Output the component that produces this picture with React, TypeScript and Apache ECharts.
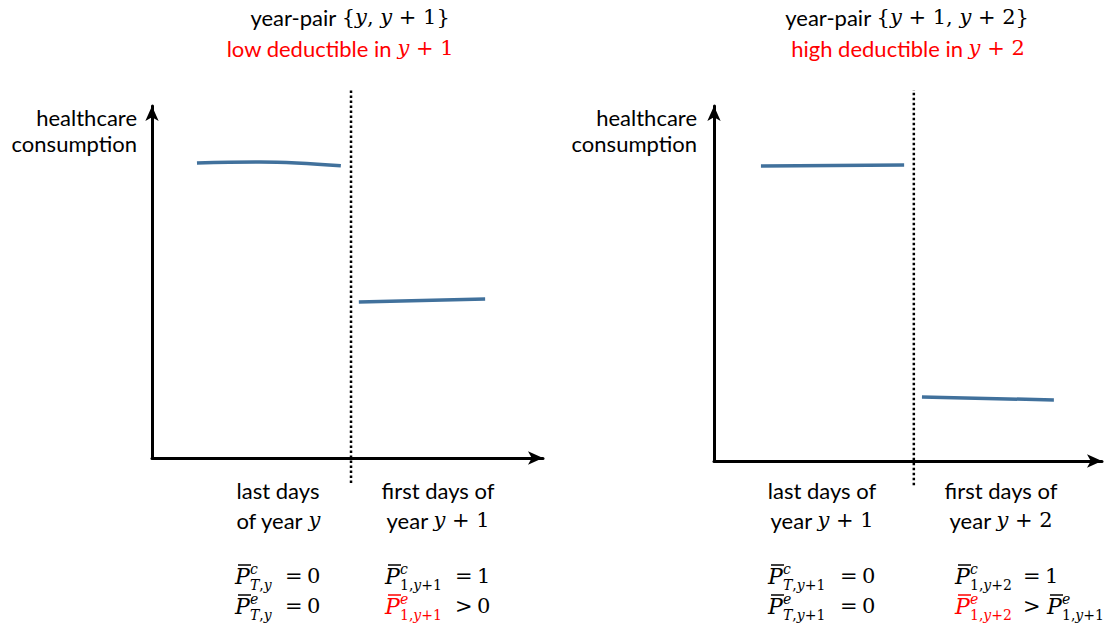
import React, { useEffect, useRef } from 'react';
import * as echarts from 'echarts';

// ---------------- data (conceptual units, 0..100 on each axis) ----------------
// left panel: year-pair {y, y+1}
const leftBefore = [[11.5, 83.8], [27.6, 84.1], [48.3, 83.0]];
const leftAfter = [[52.9, 44.3], [85.2, 45.2]];
const leftCutoff = [[50.9, -7.1], [50.9, 105.1]];
// right panel: year-pair {y+1, y+2}
const rightBefore = [[12.1, 83.1], [49.0, 83.4]];
const rightAfter = [[53.6, 18.0], [87.6, 17.2]];
const rightCutoff = [[51.5, -6.8], [51.5, 104.5]];

// ---------------- texts ----------------
const axisNameLines = ['healthcare', 'consumption'];
const leftTitle = '{s|year-pair }{m|{}{i|y}{m|, }{i|y}{m| + 1}}';
const leftSubtitle = '{s|low deductible in }{i|y}{m| + 1}';
const rightTitle = '{s|year-pair }{m|{}{i|y}{m| + 1, }{i|y}{m| + 2}}';
const rightSubtitle = '{s|high deductible in }{i|y}{m| + 2}';
const leftPeriods = [['last days', '{s|of year }{i|y}'], ['first days of', '{s|year }{i|y}{m| + 1}']];
const rightPeriods = [['last days of', '{s|year }{i|y}{m| + 1}'], ['first days of', '{s|year }{i|y}{m| + 2}']];

const BLUE = '#41719c';
const RED = '#ff0000';
const BLACK = '#000000';
const SANS = 'Lato, "Noto Sans", sans-serif';
const SERIF = '"DejaVu Serif", serif';
const ROW1 = 576;
const ROW2 = 606;

const rich = {
  s: { fontFamily: SANS, fontSize: 22 },
  i: { fontFamily: SERIF, fontSize: 21, fontStyle: 'italic' },
  m: { fontFamily: SERIF, fontSize: 21 },
};
const subRich = {
  i: { fontFamily: SERIF, fontSize: 14, fontStyle: 'italic', lineHeight: 12 },
};

function txt(x: number, y: number, text: string, align: string, fill = BLACK, extra: any = {}) {
  return {
    type: 'text',
    x,
    y,
    silent: true,
    style: {
      text,
      fill,
      font: `22px ${SANS}`,
      align,
      textAlign: align,
      verticalAlign: 'middle',
      textVerticalAlign: 'middle',
      rich,
      ...extra,
    },
  };
}

// P-bar with superscript and subscript
function pbar(x: number, yc: number, sup: string, sub: string, fill: string) {
  return [
    {
      type: 'text', x, y: yc, silent: true,
      style: { text: 'P', fill, font: `italic 22px ${SERIF}`, lineHeight: 18, align: 'left', textAlign: 'left', verticalAlign: 'middle', textVerticalAlign: 'middle' },
    },
    {
      type: 'line', silent: true,
      shape: { x1: x + 3, y1: yc - 11, x2: x + 16, y2: yc - 11 },
      style: { stroke: fill, lineWidth: 1.5 },
    },
    {
      type: 'text', x: x + 15, y: yc - 7, silent: true,
      style: { text: sup, fill, font: `italic 14px ${SERIF}`, lineHeight: 12, align: 'left', textAlign: 'left', verticalAlign: 'middle', textVerticalAlign: 'middle' },
    },
    {
      type: 'text', x: x + 15, y: yc + 8.5, silent: true,
      style: { text: sub, fill, font: `14px ${SERIF}`, lineHeight: 12, align: 'left', textAlign: 'left', verticalAlign: 'middle', textVerticalAlign: 'middle', rich: subRich },
    },
  ];
}

function mathTxt(x: number, y: number, text: string, fill = BLACK) {
  return {
    type: 'text', x, y, silent: true,
    style: { text, fill, font: `21px ${SERIF}`, align: 'left', textAlign: 'left', verticalAlign: 'middle', textVerticalAlign: 'middle' },
  };
}

// relation sign + value, spaced as in the reference
function rel(x: number, y: number, sign: string, value: string) {
  const out = [mathTxt(x, y, sign)];
  if (value) out.push(mathTxt(x + 22, y, value));
  return out;
}

function axisPair(gridIndex: number) {
  return {
    gridIndex,
    type: 'value',
    min: 0,
    max: 100,
    axisLabel: { show: false },
    axisTick: { show: false },
    splitLine: { show: false },
    axisLine: {
      show: true,
      onZero: false,
      symbol: ['none', 'arrow'],
      symbolSize: [10, 15],
      lineStyle: { color: BLACK, width: 3 },
    },
  };
}

function seg(data: number[][], idx: number, smooth: boolean | number = false) {
  return {
    type: 'line',
    xAxisIndex: idx,
    yAxisIndex: idx,
    data,
    smooth,
    symbol: 'none',
    clip: false,
    lineStyle: { color: BLUE, width: 3.5 },
  };
}

function cutoff(data: number[][], idx: number) {
  return {
    type: 'line',
    xAxisIndex: idx,
    yAxisIndex: idx,
    data,
    symbol: 'none',
    clip: false,
    lineStyle: { color: BLACK, width: 2.5, type: 'dotted' },
  };
}

export default function App() {
  const ref = useRef<HTMLDivElement>(null);
  useEffect(() => {
    if (!ref.current) return;
    const chart = echarts.init(ref.current, undefined, { renderer: 'svg' });

    const graphic: any[] = [
      // titles
      txt(350, 17, leftTitle, 'center', BLACK, { font: `21px ${SERIF}` }),
      txt(340, 48, leftSubtitle, 'center', RED, { font: `21px ${SERIF}` }),
      txt(907, 17, rightTitle, 'center', BLACK, { font: `21px ${SERIF}` }),
      txt(908, 48, rightSubtitle, 'center', RED, { font: `21px ${SERIF}` }),
      // y axis names
      txt(137, 117, axisNameLines[0], 'right'),
      txt(137, 143, axisNameLines[1], 'right'),
      txt(697, 117, axisNameLines[0], 'right'),
      txt(697, 143, axisNameLines[1], 'right'),
      // period labels
      txt(278, 490, leftPeriods[0][0], 'center'),
      txt(278, 520, leftPeriods[0][1], 'center'),
      txt(438, 490, leftPeriods[1][0], 'center'),
      txt(438, 520, leftPeriods[1][1], 'center'),
      txt(822, 490, rightPeriods[0][0], 'center'),
      txt(822, 520, rightPeriods[0][1], 'center'),
      txt(1001, 490, rightPeriods[1][0], 'center'),
      txt(1001, 520, rightPeriods[1][1], 'center'),
      // formulas, left panel
      ...pbar(235, ROW1, 'c', '{i|T},{i|y}', BLACK), ...rel(285, ROW1, '=', '0'),
      ...pbar(235, ROW2, 'e', '{i|T},{i|y}', BLACK), ...rel(285, ROW2, '=', '0'),
      ...pbar(385, ROW1, 'c', '1,{i|y}+1', BLACK), ...rel(455, ROW1, '=', '1'),
      ...pbar(385, ROW2, 'e', '1,{i|y}+1', RED), ...rel(455, ROW2, '>', '0'),
      // formulas, right panel
      ...pbar(768, ROW1, 'c', '{i|T},{i|y}+1', BLACK), ...rel(840, ROW1, '=', '0'),
      ...pbar(768, ROW2, 'e', '{i|T},{i|y}+1', BLACK), ...rel(840, ROW2, '=', '0'),
      ...pbar(955, ROW1, 'c', '1,{i|y}+2', BLACK), ...rel(1023, ROW1, '=', '1'),
      ...pbar(955, ROW2, 'e', '1,{i|y}+2', RED), ...rel(1023, ROW2, '>', ''),
      ...pbar(1047, ROW2, 'e', '1,{i|y}+1', BLACK),
    ];

    chart.setOption({
      animation: false,
      backgroundColor: '#ffffff',
      grid: [
        { left: 152, top: 106, width: 391, height: 352 },
        { left: 714, top: 106, width: 388, height: 355 },
      ],
      xAxis: [axisPair(0), axisPair(1)],
      yAxis: [axisPair(0), axisPair(1)],
      series: [
        seg(leftBefore, 0, 0.4),
        seg(leftAfter, 0),
        cutoff(leftCutoff, 0),
        seg(rightBefore, 1),
        seg(rightAfter, 1),
        cutoff(rightCutoff, 1),
      ],
      graphic,
    });
    return () => chart.dispose();
  }, []);
  return <div ref={ref} style={{ position: 'fixed', left: 0, top: 0, width: 1112, height: 630 }} />;
}
